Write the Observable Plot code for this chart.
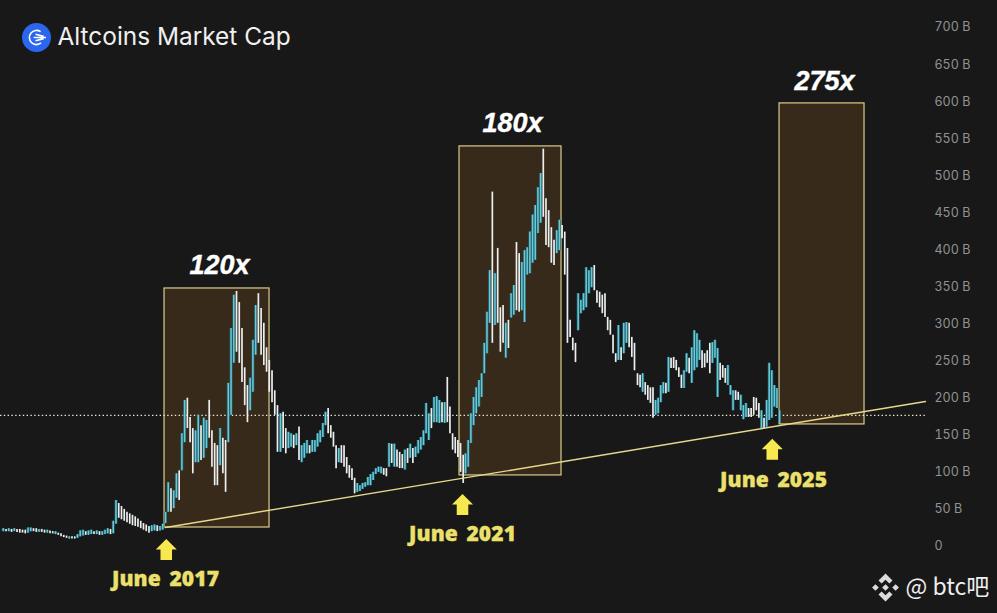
<!DOCTYPE html>
<html>
<head>
<meta charset="utf-8">
<script src="https://cdn.jsdelivr.net/npm/d3@7"></script>
<script src="https://cdn.jsdelivr.net/npm/@observablehq/plot@0.6"></script>
<style>
html,body{margin:0;padding:0;background:#181818;overflow:hidden}
svg{display:block}
</style>
</head>
<body>
<div id="chart"></div>
<script>
// Market cap in billions; candles are grouped in runs with a known start and end date.
const earlyHigh = [24,23,24,23,24,23,23,22,22,25,25,24,24,23,23,22,22,21,20,20,18,17,15,14,13,13,13,16,21,22,20,21,22,20,21,20,20,22,24,23,34,62,58,54,50,46,44,42,40,37,34,31,29,27,28,29,28,27,30];
const earlyLow  = [20,20,20,19,20,19,18,18,17,18,20,20,19,19,19,18,18,17,17,16,15,13,12,11,10,10,10,11,13,14,15,15,16,16,16,15,15,16,17,16,17,30,38,36,34,32,30,28,27,26,24,22,20,18,20,21,20,21,22];
const earlyUp   = "twtwtwwwwt"+"twwtwwtwwt"+"wwwwtwwttt"+"wttwtwtttw"+"ttwwwwwwww"+"wwwwttwtt";

const run17High = [46,86,78,75,98,102,152,197,200,174,159,156,177,163,173,170,197,156,139,136,159,146,143,220,294,339,344,329,294,241,217,227,278,325,341,321,301,268,251,237,210,190];
const run17Low  = [31,46,46,51,65,62,102,140,159,140,98,113,113,116,119,132,146,107,82,82,109,98,73,140,177,247,262,247,221,190,167,183,208,258,274,258,244,235,208,194,177,127];
const run17Up   = "ttwttwttww"+"wttwttwwww"+"twwtttwwww"+"wtttwwwwww"+"ww";

const bear19High = [179,181,159,154,152,150,152,161,136,139,143,136,143,143,152,156,166,181,186,163,154,136,132,136,136,120,109,105,92,85,82,85,86,93,97,100,105,107,107,105,105,139,138,138,130,127,124,130,132,138,132,134,143,147,156,193,179,186,201,202,197,194,194,228,188,152,147,143,139,123];
const bear19Low  = [127,132,125,132,134,132,136,116,113,119,125,125,127,127,134,140,147,163,152,146,134,105,113,112,107,98,92,89,71,73,74,77,80,82,82,89,97,100,98,96,94,107,112,107,107,105,105,103,112,119,112,120,125,130,136,152,143,159,167,167,166,167,166,167,152,130,125,120,100,85];
const bear19Up   = "twwttwtwtt"+"twttttttww"+"wwtwwwwwwt"+"tttttttttw"+"wtwtwwwtwt"+"wttttttwtt"+"twtwwwwwww";

const run21High = [125,143,179,201,214,224,233,274,316,372,478,368,402,322,325,301,305,341,352,410,395,383,399,403,424,447,460,484,503,536,469,453,430,413,426,440,433,424,402,305,281,274,341,332,341,376,372,376,379,345,343,339,341,309,305,285,260,298,268,301,302,301,282,274];
const run21Low  = [98,107,139,163,179,188,201,233,260,301,274,298,301,262,274,254,267,308,312,318,316,318,302,366,368,382,386,422,436,444,406,403,382,379,395,399,415,366,274,282,264,248,291,314,318,322,341,349,345,328,322,314,309,291,285,260,248,251,251,260,274,268,255,237];
const run21Up   = "tttttttttt"+"wtwwwtwttw"+"wttttttttw"+"wwwwttwwww"+"wwttttttww"+"wwwwwwwtwt"+"twww";

const late23High = [233,231,233,221,217,214,214,197,200,217,221,220,255,254,255,251,241,231,237,260,254,268,291,287,278,264,260,264,274,275,278,267,247,244,240,244,217,210,210,208,204,190,193,186,186,201,200,193,183,173,197,247,237,217,213,183];
const late23Low  = [217,214,208,204,197,193,173,177,179,194,206,206,208,240,240,237,228,213,213,235,233,220,237,241,251,240,241,247,233,247,254,201,224,227,220,217,204,183,197,197,183,171,174,174,174,177,183,173,158,158,161,170,173,188,186,166];
const late23Up   = "wwtwwwwttt"+"twtwwwwwtt"+"wttttwwwwt"+"ttwwwtttww"+"tttwwwwwtw"+"tttttt";

const runStart = [2015.257, 2017.42, 2018.953, 2021.42, 2023.713];
const runEnd   = [2017.383, 2018.913, 2021.389, 2023.673, 2025.607];

const boxStart = [2017.407, 2021.34, 2025.607];
const boxEnd   = [2018.807, 2022.70, 2026.74];
const boxBase  = [25.6, 95.8, 164.6];
const boxTop   = [348, 539.6, 597.6];

const multipleText = ["120x", "180x", "275x"];
const multipleYear = [2018.14, 2022.047, 2026.207];
const multipleCap  = [379, 570.6, 627];

const juneText  = ["June 2017", "June 2021", "June 2025"];
const juneYear  = [2017.42, 2021.38, 2025.527];
const juneCap   = [-44.5, 16, 89];
const arrowYear = [2017.43, 2021.38, 2025.51];
const arrowCap  = [-4, 56.7, 131];

const trendYear = [2017.42, 2027.553];
const trendCap  = [25.6, 195.6];
const dottedCap = 176.7;
const dottedYear = [2015.22, 2027.553];
const yTicks = [0,50,100,150,200,250,300,350,400,450,500,550,600,650,700];

const runs = [
  [earlyHigh, earlyLow, earlyUp],
  [run17High, run17Low, run17Up],
  [bear19High, bear19Low, bear19Up],
  [run21High, run21Low, run21Up],
  [late23High, late23Low, late23Up]
];
const candles = runs.flatMap(([h, l, u], r) => h.map((v, i) => ({
  date: runStart[r] + (runEnd[r] - runStart[r]) * i / (h.length - 1),
  high: v, low: l[i], up: (u[i] || "t") === "t"
})));
const boxes = boxStart.map((s, i) => ({s, e: boxEnd[i], b: boxBase[i], t: boxTop[i]}));
const multiples = multipleText.map((t, i) => ({t, x: multipleYear[i], y: multipleCap[i]}));
const junes = juneText.map((t, i) => ({t, x: juneYear[i], y: juneCap[i]}));
const arrows = arrowYear.map((x, i) => ({x, y: arrowCap[i]}));
const trend = trendYear.map((x, i) => ({x, y: trendCap[i]}));

const arrowSymbol = {draw(c, size) {
  const r = Math.sqrt(size / Math.PI);
  c.moveTo(0, -r); c.lineTo(r, 0); c.lineTo(r * .55, 0); c.lineTo(r * .55, r);
  c.lineTo(-r * .55, r); c.lineTo(-r * .55, 0); c.lineTo(-r, 0); c.closePath();
}};
const logoMark = {draw(c, size) {
  const r = Math.sqrt(size / Math.PI);
  c.moveTo(r * .42, -r * .62);
  c.arc(0, 0, r * .75, -0.97, -Math.PI * 1.72, true);
  c.moveTo(-r * .3, 0); c.lineTo(r, 0);
  c.moveTo(-r * .1, -r * .34); c.lineTo(r * .75, -r * .12);
  c.moveTo(-r * .1, r * .34); c.lineTo(r * .75, r * .12);
}};
const diamonds = {draw(c, size) {
  const r = Math.sqrt(size / Math.PI);
  const d = (x, y, s) => { c.moveTo(x, y - s); c.lineTo(x + s, y); c.lineTo(x, y + s); c.lineTo(x - s, y); c.closePath(); };
  d(0, 0, r * .24); d(-r * .72, 0, r * .24); d(r * .72, 0, r * .24);
  c.moveTo(0, -r); c.lineTo(r * .5, -r * .5); c.lineTo(r * .28, -r * .28); c.lineTo(0, -r * .56);
  c.lineTo(-r * .28, -r * .28); c.lineTo(-r * .5, -r * .5); c.closePath();
  c.moveTo(0, r); c.lineTo(r * .5, r * .5); c.lineTo(r * .28, r * .28); c.lineTo(0, r * .56);
  c.lineTo(-r * .28, r * .28); c.lineTo(-r * .5, r * .5); c.closePath();
}};

const sans = "Inter, Roboto, 'Noto Sans', sans-serif";
const chart = Plot.plot({
  width: 997, height: 613,
  marginLeft: 0, marginRight: 63, marginTop: 0, marginBottom: 0,
  style: {background: "#181818", fontFamily: sans},
  x: {domain: [2015.22, 2027.673], axis: null},
  y: {domain: [-90.4, 736.4]},
  marks: [
    Plot.rect(boxes, {x1: "s", x2: "e", y1: "b", y2: "t", fill: "#d88b28", fillOpacity: 0.17, stroke: "#dccd8c", strokeWidth: 1.2}),
    Plot.ruleY([dottedCap], {x1: dottedYear[0], x2: dottedYear[1], stroke: "#e8e8da", strokeWidth: 1.2, strokeDasharray: "1.4 2.4"}),
    Plot.ruleX(candles.filter(d => d.up), {x: "date", y1: "low", y2: "high", stroke: "#1f6a78", strokeWidth: 3, strokeOpacity: .85}),
    Plot.ruleX(candles.filter(d => d.up), {x: "date", y1: "low", y2: "high", stroke: "#6cc9d8", strokeWidth: 1.5}),
    Plot.ruleX(candles.filter(d => !d.up), {x: "date", y1: "low", y2: "high", stroke: "#ecefef", strokeWidth: 1.7}),
    Plot.line(trend, {x: "x", y: "y", stroke: "#e6d98e", strokeWidth: 1.4}),
    Plot.axisY({anchor: "right", ticks: yTicks, tickSize: 0, tickPadding: 0, textAnchor: "start", label: null,
      tickFormat: d => d === 0 ? "0" : `${d} B`, fill: "#929292", fontSize: 12.5, fontFamily: sans, stroke: "none"}),
    Plot.dot(arrows, {x: "x", y: "y", r: 10.5, symbol: arrowSymbol, fill: "#f7e850", stroke: "none"}),
    Plot.text(junes, {x: "x", y: "y", text: "t", fill: "#ece06c", fontSize: 21, fontWeight: 800, fontFamily: "'Open Sans', sans-serif", stroke: "#ece06c", strokeWidth: .3, className: "june"}),
    Plot.text(multiples, {x: "x", y: "y", text: "t", fill: "#ffffff", stroke: "#ffffff", strokeWidth: .4, fontSize: 27, fontWeight: 700, fontStyle: "italic", fontFamily: "'Liberation Sans', Arial, sans-serif"}),
    Plot.dot([0], {frameAnchor: "top-left", dx: 36, dy: 37, r: 14.5, fill: "#2b66ee", stroke: "none"}),
    Plot.dot([0], {frameAnchor: "top-left", dx: 36, dy: 37, r: 9.5, symbol: logoMark, fill: "none", stroke: "#ffffff", strokeWidth: 1.6}),
    Plot.text(["Altcoins Market Cap"], {frameAnchor: "top-left", dx: 57, dy: 37, text: d => d, textAnchor: "start", lineAnchor: "middle", fill: "#f0f0f0", fontSize: 24.4, fontFamily: "Inter, Roboto, sans-serif"}),
    Plot.dot([0], {frameAnchor: "top-left", dx: 885, dy: 587, r: 14, symbol: diamonds, fill: "#dcdcdc", stroke: "none"}),
    Plot.text(["@ btc吧"], {frameAnchor: "top-left", dx: 905, dy: 587, text: d => d, textAnchor: "start", lineAnchor: "middle", fill: "#eeeeee", fontSize: 23, fontFamily: "'Noto Sans CJK SC', 'Noto Sans', sans-serif"})
  ]
});
d3.select(chart).selectAll("g.june text").style("letter-spacing", "0.1px").style("word-spacing", "3px");
document.getElementById("chart").append(chart);
</script>
</body>
</html>
